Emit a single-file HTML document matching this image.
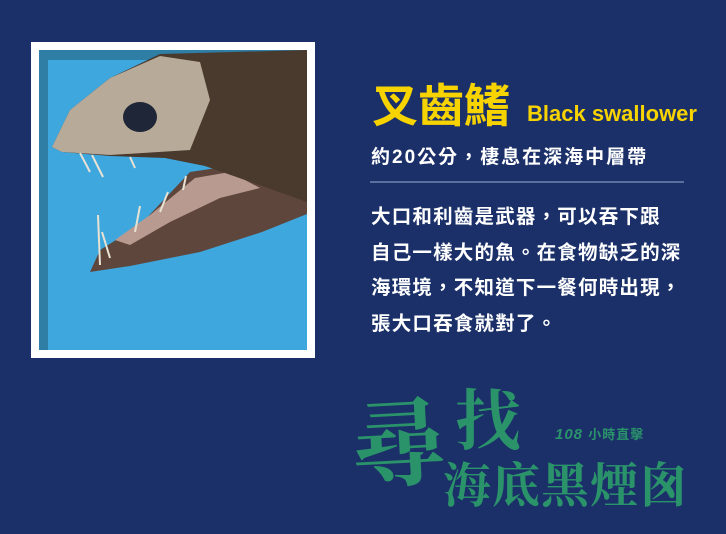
<!DOCTYPE html>
<html><head><meta charset="utf-8"><style>
html,body{margin:0;padding:0}
body{width:726px;height:534px;background:#1b3069;position:relative;overflow:hidden;font-family:"Liberation Sans","Noto Sans CJK TC",sans-serif}
.abs{position:absolute;white-space:nowrap}
</style></head><body>
<div class="abs" style="left:31px;top:42px;width:284px;height:316px;background:#fff"></div>
<svg class="abs" style="left:39px;top:50px" width="268" height="300" viewBox="39 50 268 300">
<rect x="39" y="50" width="268" height="300" fill="#3ea7dd"/>
<rect x="39" y="50" width="268" height="10" fill="#2e7ea6"/>
<rect x="39" y="50" width="9" height="300" fill="#2e7ea6"/>
<polygon points="90,272 100,250 140,225 190,172 230,166 270,185 307,200 307,214 262,232 200,252 130,266" fill="#5e463d"/>
<polygon points="115,240 150,215 195,178 230,172 260,188 220,198 170,222 130,245" fill="#b99a90"/>
<polygon points="52,147 70,110 110,78 160,54 307,50 307,202 262,186 205,166 165,158 110,156 62,152" fill="#4a3a2e"/>
<polygon points="52,147 70,110 110,78 160,56 200,62 210,100 190,150 110,155 62,152" fill="#b8aa98"/>
<ellipse cx="140" cy="117" rx="17" ry="15" fill="#1e2638"/>
<g stroke="#e7e2d4" stroke-width="2">
<line x1="80" y1="153" x2="90" y2="172"/><line x1="92" y1="155" x2="103" y2="177"/><line x1="130" y1="157" x2="135" y2="168"/>
<line x1="100" y1="265" x2="98" y2="215"/><line x1="110" y1="258" x2="102" y2="232"/><line x1="135" y1="232" x2="140" y2="206"/><line x1="160" y1="212" x2="168" y2="192"/><line x1="183" y1="190" x2="186" y2="176"/>
</g></svg>
<div class="abs" style="left:372px;top:78px;font-size:46px;font-weight:bold;color:#f7d300;line-height:56px">叉齒鰭</div>
<div class="abs" style="left:527px;top:100px;font-size:22px;font-weight:bold;color:#f7d300;line-height:28px">Black swallower</div>
<div class="abs" style="left:371px;top:145px;font-size:19px;font-weight:bold;color:#fff;line-height:26px;letter-spacing:2px">約20公分，棲息在深海中層帶</div>
<div class="abs" style="left:370px;top:181px;width:314px;height:2px;background:#5a6f9e"></div>
<div class="abs" style="left:371px;top:200px;font-size:19.5px;font-weight:bold;color:#fff;line-height:35.5px;letter-spacing:1.2px">大口和利齒是武器，可以吞下跟<br>自己一樣大的魚。在食物缺乏的深<br>海環境，不知道下一餐何時出現，<br>張大口吞食就對了。</div>
<div class="abs" style="left:350px;top:378px;font-size:96px;font-weight:bold;color:#2a936a;line-height:120px;font-family:'Noto Serif CJK SC',serif;transform:rotate(-3deg)">尋</div>
<div class="abs" style="left:455px;top:378px;font-size:66px;font-weight:bold;color:#2a936a;line-height:76px;font-family:'Noto Serif CJK SC',serif">找</div>
<div class="abs" style="left:555px;top:425px;font-size:15px;font-weight:bold;color:#2a936a;line-height:20px;font-style:italic;letter-spacing:1px">108 <span style="font-size:13px;font-style:normal">小時直擊</span></div>
<div class="abs" style="left:443px;top:452px;font-size:48px;font-weight:bold;color:#2a936a;line-height:60px;font-family:'Noto Serif CJK SC',serif;letter-spacing:1px">海底黑煙囪</div>
</body></html>
